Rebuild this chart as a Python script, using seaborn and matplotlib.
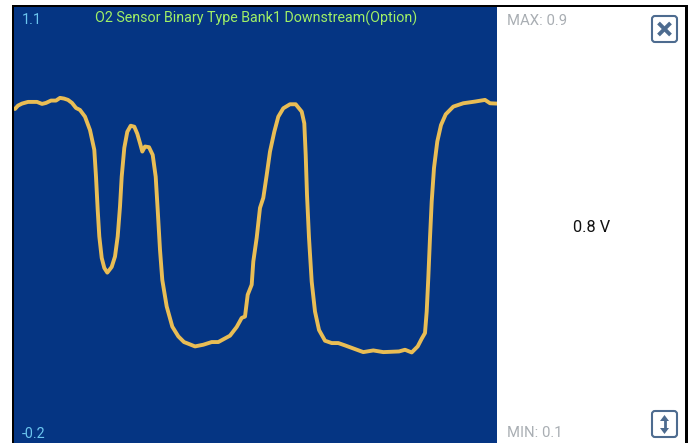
import matplotlib
matplotlib.use("Agg")
import matplotlib.pyplot as plt
from matplotlib.patches import FancyBboxPatch, Rectangle, Polygon
import pandas as pd
import seaborn as sns

sns.set_theme(style="white")
plt.rcParams['font.family'] = ['Roboto', 'DejaVu Sans']

# Signal: sample position and sensor voltage
sample = [1, 4, 8, 14, 23, 28, 32, 37, 42, 46, 50, 54, 58, 62, 66, 69,
          71, 76, 80.3, 82, 83.7, 85.3, 87.7, 90.3, 93.3, 97.7, 101, 103.7, 106, 107.7, 110.3, 113.3, 116.7,
          120.3, 123.3, 126, 128.3, 131, 135, 138.7, 141.7, 143.7, 146, 148.3, 152.7, 158.3, 164.3, 170,
          174.3, 181, 189.3, 197.7, 204.3, 216, 222.7, 227.7, 231,
          233.7, 237.7, 239.3, 242.7, 246, 249.3, 252.7, 256, 260.3, 264.3, 269.3, 276, 281.7, 287.7, 290.3,
          291.7, 293, 295, 297.7, 301, 305, 311, 317.7, 324.3, 331,
          349.3, 359.3, 369.3, 385, 391, 397.7, 403.7, 407.7, 411, 412.7, 414.3, 416, 417.7, 420, 423.3, 427,
          431.7, 439.3, 449.3, 461, 471, 476, 482.7]
voltage = [.796, .806, .812, .817, .817, .811, .814, .821, .821, .829, .827, .823, .814, .799, .793, .781,
           .773, .733, .674, .594, .495, .416, .352, .322, .308, .325, .356, .416, .505, .594, .680, .728, .746,
           .743, .722, .694, .669, .684, .682, .659, .594, .495, .376, .286, .207, .147, .118, .101,
           .096, .088, .093, .101, .101, .120, .146, .173, .177,
           .242, .272, .341, .412, .501, .531, .599, .669, .728, .773, .798, .810, .810, .788, .753,
           .659, .540, .412, .281, .192, .137, .105, .098, .098, .091,
           .071, .076, .071, .073, .078, .070, .088, .111, .128, .192, .292, .412, .520, .620, .699, .748,
           .780, .803, .813, .818, .823, .813, .812]
axis_top = "1.1"
axis_bottom = "-0.2"
title = "O2 Sensor Binary Type Bank1 Downstream(Option)"
max_label = "MAX: 0.9"
min_label = "MIN: 0.1"
current_label = "0.8 V"

W, H = 693, 443
fig = plt.figure(figsize=(W / 100, H / 100), dpi=100, facecolor="white")

# Frame and side panel, in pixel coordinates
bg = fig.add_axes([0, 0, 1, 1], zorder=0)
bg.set_xlim(0, W)
bg.set_ylim(H, 0)
bg.axis("off")
bg.add_patch(Rectangle((12, 5), 676, 438, fc="black", ec="none"))
bg.add_patch(Rectangle((14, 7), 671, 436, fc="white", ec="none"))

# Chart area
left, right, top, bottom = 14, 497, 7, 443
ax = fig.add_axes([left / W, 1 - bottom / H, (right - left) / W, (bottom - top) / H], zorder=1)
ax.set_facecolor("#053583")
df = pd.DataFrame({"sample": sample, "voltage": voltage})
sns.lineplot(data=df, x="sample", y="voltage", ax=ax, color="#e9bd55", linewidth=2.8,
             estimator=None, sort=False, legend=False)
for line in ax.get_lines():
    line.set_solid_joinstyle("round")
ax.set_xlim(0, right - left)
ax.set_ylim(-0.2, 1.1)
ax.set_xticks([])
ax.set_yticks([])
ax.set_xlabel("")
ax.set_ylabel("")
for s in ax.spines.values():
    s.set_visible(False)

# Overlay text and buttons
fg = fig.add_axes([0, 0, 1, 1], zorder=2)
fg.set_xlim(0, W)
fg.set_ylim(H, 0)
fg.axis("off")
fg.patch.set_alpha(0)
fs = 10.3
fg.text(22, 20, axis_top, color="#6cc6f0", fontsize=fs, va="center", ha="left")
fg.text(22, 434, axis_bottom, color="#6cc6f0", fontsize=fs, va="center", ha="left")
fg.text(256, 18, title, color="#a0f066", fontsize=fs, va="center", ha="center")
fg.text(507, 21, max_label, color="#a9aeb3", fontsize=10.7, va="center", ha="left")
fg.text(507, 433, min_label, color="#a9aeb3", fontsize=10.7, va="center", ha="left")
fg.text(592, 227, current_label, color="#111111", fontsize=11.8, va="center", ha="center")

btn = "#4d6b8f"
for y0 in (16, 411):
    fg.add_patch(FancyBboxPatch((652, y0), 25, 26, boxstyle="round,pad=0,rounding_size=3",
                                fc="white", ec=btn, lw=1.5))
fg.plot([658.5, 670.5], [23, 35], color=btn, lw=2.8, solid_capstyle="butt")
fg.plot([670.5, 658.5], [23, 35], color=btn, lw=2.8, solid_capstyle="butt")
fg.plot([664.5, 664.5], [419, 430], color=btn, lw=2.0, solid_capstyle="butt")
fg.add_patch(Polygon([(664.5, 415), (660, 421), (669, 421)], fc=btn, ec="none"))
fg.add_patch(Polygon([(664.5, 434), (660, 428), (669, 428)], fc=btn, ec="none"))

fig.savefig("out.png", dpi=100, facecolor="white")
